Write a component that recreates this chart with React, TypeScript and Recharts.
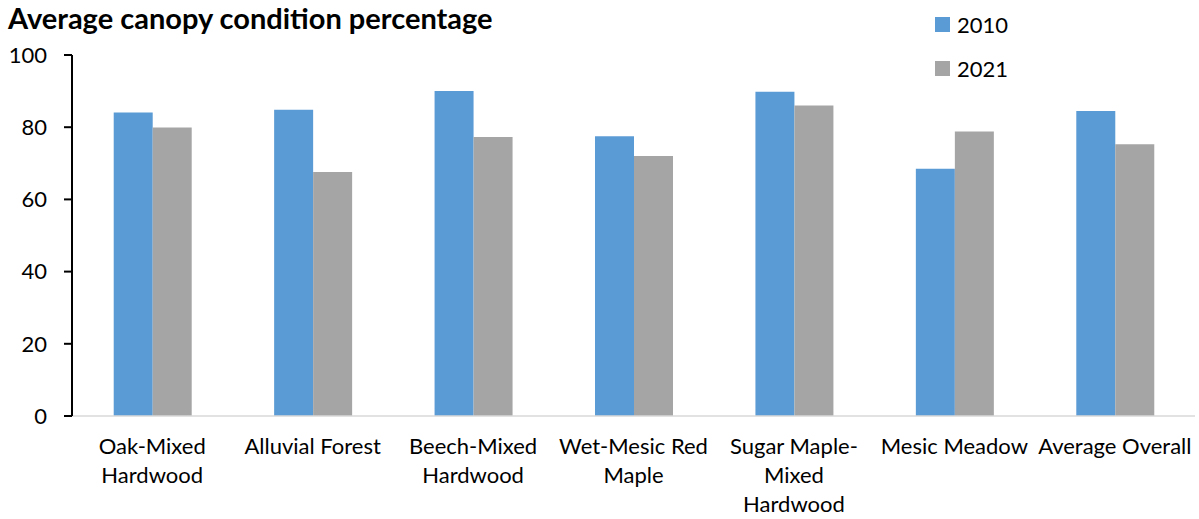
import * as React from "react";
import { Bar, BarChart, XAxis, YAxis } from "recharts";

const categories = [
  "Oak-Mixed Hardwood",
  "Alluvial Forest",
  "Beech-Mixed Hardwood",
  "Wet-Mesic Red Maple",
  "Sugar Maple-Mixed Hardwood",
  "Mesic Meadow",
  "Average Overall",
];

// how each category label breaks into lines under the axis
const tickLines = [
  ["Oak-Mixed", "Hardwood"],
  ["Alluvial Forest"],
  ["Beech-Mixed", "Hardwood"],
  ["Wet-Mesic Red", "Maple"],
  ["Sugar Maple-", "Mixed", "Hardwood"],
  ["Mesic Meadow"],
  ["Average Overall"],
];

const values2010 = [84.1, 84.8, 90.0, 77.5, 89.8, 68.5, 84.5];
const values2021 = [79.9, 67.6, 77.3, 72.0, 86.0, 78.8, 75.3];
const yTicks = [0, 20, 40, 60, 80, 100];

const BLUE = "#5B9BD5";
const GRAY = "#A5A5A5";
const FONT = "Lato, 'Open Sans', sans-serif";

const data = categories.map((name, i) => ({
  name,
  y2010: values2010[i],
  y2021: values2021[i],
}));

function CategoryTick(props: any) {
  const { x, y, payload } = props;
  const lines = tickLines[payload.index] ?? [payload.value];
  return (
    <g transform={`translate(${x},${y})`}>
      {lines.map((line, i) => (
        <text
          key={i}
          x={0}
          y={24 + i * 29}
          textAnchor="middle"
          dominantBaseline="middle"
          fontSize={22}
          fontFamily={FONT}
          fill="#000"
        >
          {line}
        </text>
      ))}
    </g>
  );
}

export default function App() {
  return (
    <div style={{ position: "absolute", left: 0, top: 0, width: 1199, height: 519, fontFamily: FONT }}>
      <div
        style={{
          position: "absolute",
          left: 8,
          top: 0,
          fontSize: 29,
          fontWeight: 700,
          color: "#000",
          whiteSpace: "nowrap",
        }}
      >
        Average canopy condition percentage
      </div>
      <div style={{ position: "absolute", left: 935, top: 2, fontSize: 22, color: "#000" }}>
        {[
          { label: "2010", color: BLUE },
          { label: "2021", color: GRAY },
        ].map((item) => (
          <div key={item.label} style={{ display: "flex", alignItems: "center", height: 44 }}>
            <span style={{ width: 15, height: 15, background: item.color, display: "inline-block", marginRight: 7 }} />
            <span>{item.label}</span>
          </div>
        ))}
      </div>
      <BarChart
        width={1199}
        height={519}
        data={data}
        margin={{ top: 55, right: 4, bottom: 0, left: 0 }}
        barCategoryGap="26%"
        barGap={0}
      >
        <XAxis
          dataKey="name"
          height={103}
          tickLine={false}
          axisLine={{ stroke: "#D9D9D9", strokeWidth: 1.5 }}
          interval={0}
          tick={<CategoryTick />}
        />
        <YAxis
          width={72}
          domain={[0, 100]}
          ticks={yTicks}
          axisLine={{ stroke: "#000", strokeWidth: 2 }}
          tickLine={{ stroke: "#000", strokeWidth: 2 }}
          tickSize={8}
          tickMargin={17}
          tick={{ fontSize: 22, fill: "#000", fontFamily: FONT }}
        />
        <Bar dataKey="y2010" fill={BLUE} isAnimationActive={false} />
        <Bar dataKey="y2021" fill={GRAY} isAnimationActive={false} />
      </BarChart>
    </div>
  );
}
